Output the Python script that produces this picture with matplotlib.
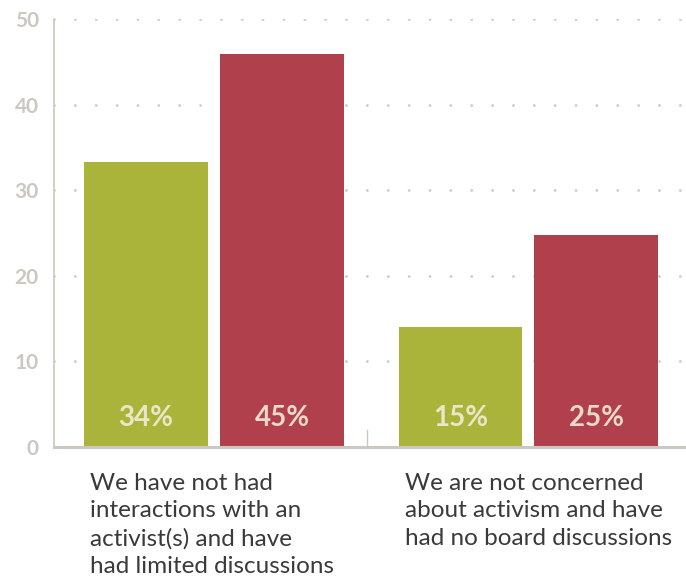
import numpy as np
import matplotlib
matplotlib.use("Agg")
import matplotlib.pyplot as plt

# Data
categories = [
    "We have not had\ninteractions with an\nactivist(s) and have\nhad limited discussions",
    "We are not concerned\nabout activism and have\nhad no board discussions",
]
green_values = [33.3, 14.0]
red_values = [45.9, 24.8]
green_labels = ["34%", "15%"]
red_labels = ["45%", "25%"]
y_ticks = [0, 10, 20, 30, 40, 50]

GREEN = "#abb43a"
RED = "#b0404c"
GREY = "#ccc7bf"
TEXT = "#3a3a3a"

plt.rcParams["font.family"] = ["Lato", "DejaVu Sans"]

fig = plt.figure(figsize=(6.86, 5.78), dpi=100)
ax = fig.add_axes([54 / 686, 1 - 447 / 578, 1 - 54 / 686, (447 - 19) / 578])

x = np.arange(len(categories))
width = 0.394
offset = 0.216

# dotted gridlines behind bars
for t in y_ticks[1:]:
    ax.axhline(t, color=GREY, lw=2.0, linestyle=(0, (0.01, 7.5)),
               dash_capstyle="round", zorder=0)

ax.bar(x - offset, green_values, width, color=GREEN, zorder=2)
ax.bar(x + offset, red_values, width, color=RED, zorder=2)

for i in range(len(categories)):
    ax.text(x[i] - offset, 2.4, green_labels[i], ha="center", va="baseline",
            fontsize=20, fontweight="bold", color="#f2efdc", alpha=0.88, zorder=3)
    ax.text(x[i] + offset, 2.4, red_labels[i], ha="center", va="baseline",
            fontsize=20, fontweight="bold", color="#f2efdc", alpha=0.88, zorder=3)

# separator tick between groups
ax.plot([0.487, 0.487], [0, 2.0], color=GREY, lw=1.0, zorder=1)

ax.set_xlim(-0.509, 1.501)
ax.set_ylim(0, 50)

for s in ["top", "right"]:
    ax.spines[s].set_visible(False)
ax.spines["left"].set_color(GREY)
ax.spines["left"].set_linewidth(1.2)
ax.spines["bottom"].set_color(GREY)
ax.spines["bottom"].set_linewidth(2.2)

ax.set_yticks(y_ticks)
ax.set_yticklabels([str(t) for t in y_ticks])
ax.tick_params(axis="y", length=0, pad=11, labelsize=15, labelcolor=GREY)
for lbl in ax.get_yticklabels():
    lbl.set_fontweight("bold")
ax.set_xticks([])

# category labels under each group, left aligned
for i, cat in enumerate(categories):
    ax.text(x[i] - offset - width / 2 + 0.019, -3.0, cat, ha="left", va="top",
            fontsize=17.5, color=TEXT, linespacing=1.39, clip_on=False)

fig.savefig("out.png", dpi=100)
